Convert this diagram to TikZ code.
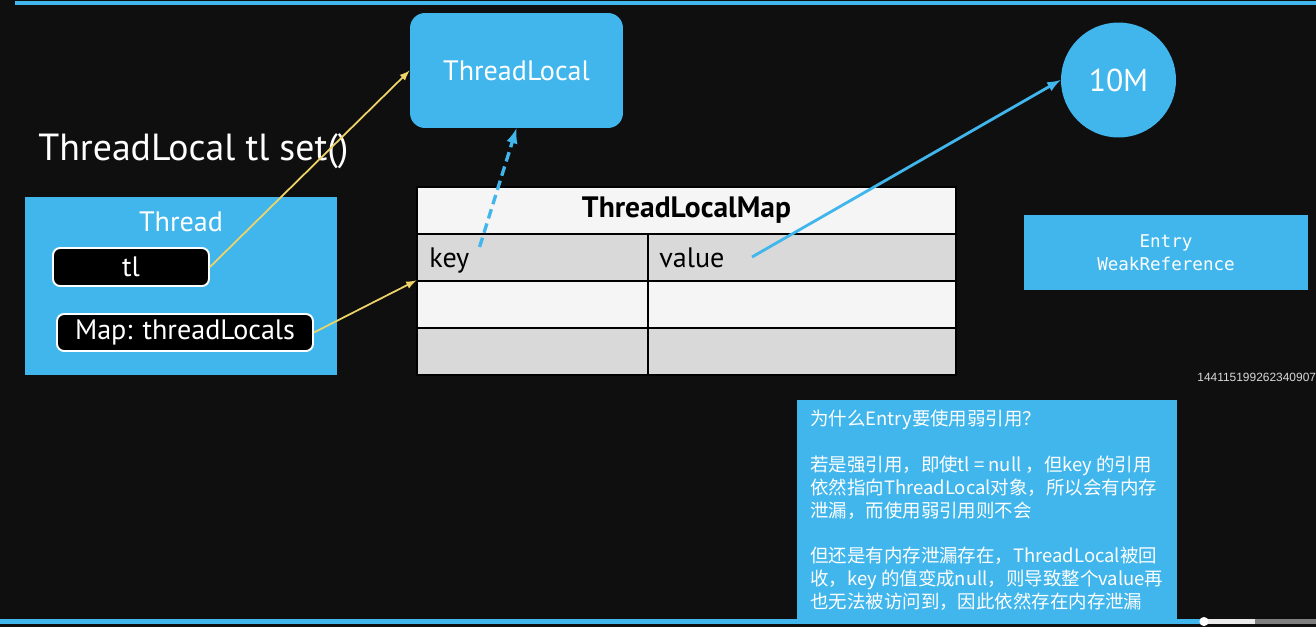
\documentclass[tikz,border=0pt]{standalone}
\usepackage{fontspec}
\usepackage{xcolor}
\setmainfont{PT Sans}
\newfontfamily\cjk{Noto Sans CJK SC}
\newfontfamily\monofam{DejaVu Sans Mono}
\newfontfamily\wmfam{Liberation Sans}
\definecolor{board}{RGB}{15,15,15}
\definecolor{skyblue}{RGB}{64,182,236}
\definecolor{chalkyellow}{RGB}{238,212,104}
\definecolor{cellgray}{RGB}{217,217,217}
\definecolor{cellwhite}{RGB}{245,245,245}

\begin{document}
\begin{tikzpicture}[x=0.02cm,y=-0.02cm,
	bluebox/.style={fill=skyblue,inner sep=0pt,text=white},
	pill/.style={fill=black,draw=white,line width=1.1pt,rounded corners=4pt,inner sep=0pt,text=white,font=\fontsize{16}{18}\selectfont},
	cell/.style={draw=black,line width=0.7pt,inner sep=0pt,minimum height=0.94cm},
	yellowarrow/.style={chalkyellow,line width=1pt,-latex},
	bluearrow/.style={skyblue,line width=1.6pt,-latex}]
	\fill[board] (0,0) rectangle (1316,627);
	\useasboundingbox (0,0) rectangle (1316,627);
	\draw[skyblue,line width=2pt] (15,3) -- (1316,3);
	\node[bluebox,rounded corners=0.3cm,minimum width=4.26cm,minimum height=2.3cm,font=\fontsize{16}{18}\selectfont] (tlocal) at (516.5,70.5) {ThreadLocal};
	\node[anchor=base west,inner sep=0pt,text=white,font=\fontsize{21.5}{26}\selectfont] (title) at (38,160) {ThreadLocal tl set()};
	\node[bluebox,minimum width=6.24cm,minimum height=3.56cm] (thread) at (181,286) {};
	\node[anchor=base,inner sep=0pt,text=white,font=\fontsize{16}{18}\selectfont] (threadtitle) at (181,231) {Thread};
	\node[pill,minimum width=3.12cm,minimum height=0.76cm] (tlpill) at (131,267) {tl};
	\node[pill,minimum width=5.12cm,minimum height=0.74cm] (mappill) at (185,332.5) {Map: threadLocals};
	\node[cell,fill=cellwhite,minimum width=10.78cm,font=\bfseries\fontsize{16.8}{18}\selectfont] (header) at (686.5,210.5) {ThreadLocalMap};
	\foreach \r/\y/\c in {1/257.5/cellgray,2/304.5/cellwhite,3/351.5/cellgray}
	{
		\node[cell,fill=\c,minimum width=4.62cm] (k\r) at (532.5,\y) {};
		\node[cell,fill=\c,minimum width=6.16cm] (v\r) at (802,\y) {};
	}
	\node[anchor=base west,inner sep=0pt,font=\fontsize{16}{18}\selectfont] (keytxt) at (429,267) {key};
	\node[anchor=base west,inner sep=0pt,font=\fontsize{16}{18}\selectfont] (valtxt) at (659,267) {value};
	\coordinate (valtip) at (752,257);
	\node[bluebox,circle,minimum size=2.3cm,font=\fontsize{18}{20}\selectfont] (tenM) at (1118.5,80) {10M};
	\node[bluebox,minimum width=5.68cm,minimum height=1.5cm,align=center,font=\monofam\fontsize{10}{13}\selectfont] (entry) at (1166,252.5) {Entry\\WeakReference};
	\node[anchor=west,inner sep=0pt,text=white!85!black,font=\wmfam\fontsize{6.8}{8}\selectfont] (wmark) at (1197,377) {144115199262340907};
	\node[bluebox,minimum width=7.6cm,minimum height=4.38cm] (note) at (987,509.5) {};
	\node[anchor=north west,inner sep=0pt,align=left,text=white,font=\cjk\fontsize{10.5}{13}\selectfont] (notetext) at (810,410) {为什么Entry要使用弱引用？\\[13pt]若是强引用，即使tl = null ，但key 的引用\\依然指向ThreadLocal对象，所以会有内存\\泄漏，而使用弱引用则不会\\[13pt]但还是有内存泄漏存在，ThreadLocal被回\\收，key 的值变成null，则导致整个value再\\也无法被访问到，因此依然存在内存泄漏};
	\draw[yellowarrow] (tlpill.east) -- (tlocal.west);
	\draw[yellowarrow] (mappill.east) -- (k2.north west);
	\draw[bluearrow,line width=1.9pt,dash pattern=on 5.5pt off 3pt] ([xshift=0.2cm]keytxt.north east) -- (tlocal.south);
	\draw[bluearrow] (valtip) -- (tenM.west);
	\draw[skyblue,line width=2.3pt] (0,621.5) -- (1204,621.5);
	\draw[white!92!black,line width=2.3pt] (1204,621.5) -- (1255,621.5);
	\draw[gray,line width=2.3pt] (1255,621.5) -- (1316,621.5);
	\fill[white] (1204,621.5) circle (2.6pt);
\end{tikzpicture}
\end{document}
